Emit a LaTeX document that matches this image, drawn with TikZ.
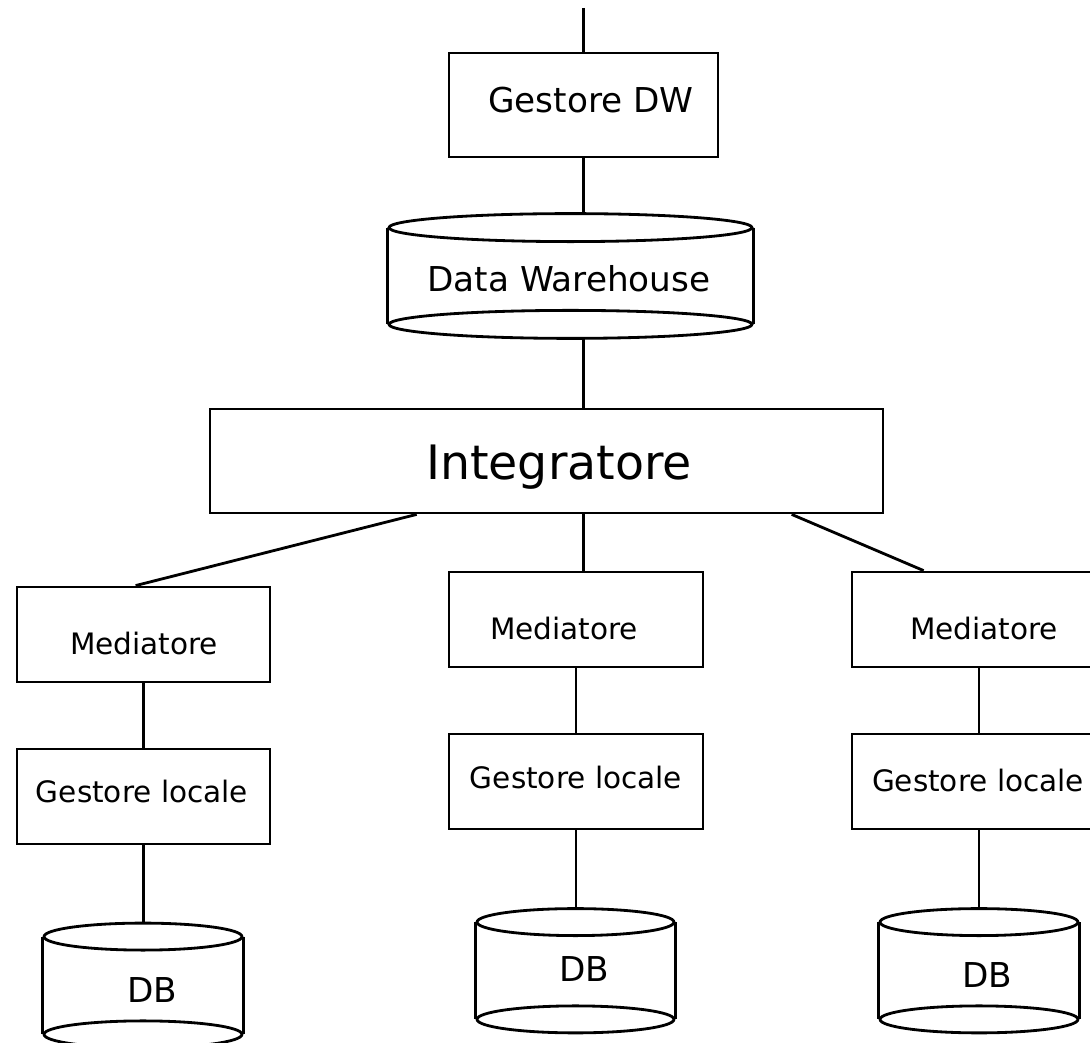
\documentclass[tikz,border=0pt]{standalone}
\usepackage{fontspec}
\setmainfont{DejaVu Sans}
\usetikzlibrary{calc}
\newcommand\drawcyl[4]{%
  \draw ($(#1.north west)+(0,#2)$) -- ($(#1.south west)+(0,-#2)$);
  \draw ($(#1.north east)+(0,#2)$) -- ($(#1.south east)+(0,-#2)$);
  \draw ($(#1.north)+(0,#2)$) ellipse [x radius=#3, y radius=#4];
  \draw ($(#1.south)+(0,-#2)$) ellipse [x radius=#3, y radius=#4];
}
\begin{document}
\begin{tikzpicture}[x=0.02cm,y=-0.02cm,line width=1.6pt,
  box/.style={draw,rectangle,inner sep=0pt},
  cyl/.style={rectangle,inner sep=0pt},
  lbl/.style={anchor=base,inner sep=0pt},
  fbig/.style={font=\fontsize{27}{30}\selectfont},
  fmid/.style={font=\fontsize{19.5}{22}\selectfont},
  fsmall/.style={font=\fontsize{16.8}{19}\selectfont}]
\clip (0,0) rectangle (1090,1043);
\fill[white] (0,0) rectangle (1090,1043);
% boxes
\node[box,minimum width=5.38cm,minimum height=2.08cm] (gdw) at (583.5,105) {};
\node[cyl,minimum width=7.26cm,minimum height=2.44cm] (dw) at (570.5,276) {};
\node[box,minimum width=13.46cm,minimum height=2.08cm] (integ) at (546.5,461) {};
\node[box,minimum width=5.06cm,minimum height=1.9cm] (medL) at (143.5,634.5) {};
\node[box,minimum width=5.06cm,minimum height=1.9cm] (glL) at (143.5,796.5) {};
\node[box,minimum width=5.08cm,minimum height=1.9cm] (medM) at (576,619.5) {};
\node[box,minimum width=5.08cm,minimum height=1.9cm] (glM) at (576,781.5) {};
\node[box,minimum width=5.08cm,minimum height=1.9cm] (medR) at (979,619.5) {};
\node[box,minimum width=5.08cm,minimum height=1.9cm] (glR) at (979,781.5) {};
\node[cyl,minimum width=3.96cm,minimum height=2.44cm] (dbL) at (143,985.5) {};
\node[cyl,minimum width=3.94cm,minimum height=2.43cm] (dbM) at (575.5,970.75) {};
\node[cyl,minimum width=3.96cm,minimum height=2.43cm] (dbR) at (979,970.75) {};
\drawcyl{dw}{14}{3.63cm}{0.28cm}
\drawcyl{dbL}{13.5}{1.98cm}{0.27cm}
\drawcyl{dbM}{13.5}{1.97cm}{0.27cm}
\drawcyl{dbR}{13.5}{1.98cm}{0.27cm}
% texts
\node[lbl,fmid] (tgdw) at (591,113) {Gestore DW};
\node[lbl,fmid] (tdw) at (569,292) {Data Warehouse};
\node[lbl,fbig] (tinteg) at (559,480) {Integratore};
\node[lbl,fsmall] (tmedL) at (144,655) {Mediatore};
\node[lbl,fsmall] (tmedM) at (564,640) {Mediatore};
\node[lbl,fsmall] (tmedR) at (984,640) {Mediatore};
\node[lbl,fsmall] (tglL) at (142,803) {Gestore locale};
\node[lbl,fsmall] (tglM) at (576,789) {Gestore locale};
\node[lbl,fsmall] (tglR) at (978,792) {Gestore locale};
\node[lbl,fmid] (tdbL) at (152,1003) {DB};
\node[lbl,fmid] (tdbM) at (584,982) {DB};
\node[lbl,fmid] (tdbR) at (987,988) {DB};
% connectors
\coordinate (top) at (583.5,8);
\draw (top) -- (gdw.north);
\draw (gdw.south) -- (dw.north -| gdw.south);
\draw (dw.south -| gdw.south) -- (integ.north -| gdw.south);
\draw ($(integ.south west)+(208,0)$) -- ($(medL.north west)+(120,0)$);
\draw (integ.south -| gdw.south) -- (medM.north -| gdw.south);
\draw ($(integ.south west)+(583,0)$) -- ($(medR.north west)+(73,0)$);
\draw (medL.south) -- (glL.north);
\draw (glL.south) -- (glL.south |- dbL.north);
\draw (medM.south) -- (glM.north);
\draw (glM.south) -- (glM.south |- dbM.north);
\draw (medR.south) -- (glR.north);
\draw (glR.south) -- (dbR.north);
\end{tikzpicture}
\end{document}
